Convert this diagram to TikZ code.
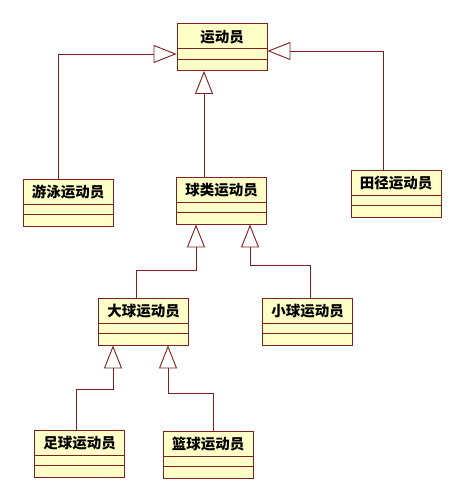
\documentclass[tikz,border=0pt]{standalone}
\usepackage{fontspec}
\newfontfamily\cjk{Noto Sans CJK SC}
\usetikzlibrary{arrows.meta}
\definecolor{umlline}{RGB}{128,32,32}
\definecolor{umlfill}{RGB}{255,255,200}
\tikzset{
  cls/.style={draw=umlline, fill=umlfill, line width=0.9pt, minimum width=90pt, minimum height=47pt,
              text height=18.8pt, text depth=28.2pt, inner sep=0pt, font=\cjk\bfseries\fontsize{14.5}{16}\selectfont,
              path picture={\draw[umlline, line width=0.9pt]
                ([yshift=-25pt]path picture bounding box.north west) -- ([yshift=-25pt]path picture bounding box.north east)
                ([yshift=-35.5pt]path picture bounding box.north west) -- ([yshift=-35.5pt]path picture bounding box.north east);}},
  inh/.style={-{Triangle[length=23pt, width=18pt, fill=white]}, draw=umlline, line width=0.9pt}
}
\begin{document}
\begin{tikzpicture}[x=1pt, y=1pt]
\useasboundingbox[fill=white] (0,0) rectangle (464,502);
\node[cls] (athlete) at (222,455) {运动员};
\node[cls] (swim) at (68,299.5) {游泳运动员};
\node[cls] (ball) at (221.5,301.5) {球类运动员};
\node[cls] (track) at (396,308.5) {田径运动员};
\node[cls] (big) at (143.5,180.5) {大球运动员};
\node[cls] (small) at (307.5,180.5) {小球运动员};
\node[cls] (foot) at (79.5,48.5) {足球运动员};
\node[cls] (basket) at (208,47.5) {篮球运动员};
% inheritance
\draw[inh] ([xshift=-10pt]swim.north) |- ([yshift=-7pt]athlete.west);
\draw[inh] ([xshift=-13pt]track.north) |- ([yshift=-4pt]athlete.east);
\draw[inh] ([xshift=-17.5pt]ball.north) -- ([xshift=-18pt]athlete.south);
\draw[inh] ([xshift=-7.5pt]big.north) -- ++(0,27) -| ([xshift=-25.5pt]ball.south);
\draw[inh] ([xshift=2.5pt]small.north) -- ++(0,32) -| ([xshift=28.5pt]ball.south);
\draw[inh] ([xshift=-3.5pt]foot.north) -- ++(0,40) -| ([xshift=-30.5pt]big.south);
\draw[inh] ([xshift=5pt]basket.north) -- ++(0,37) -| ([xshift=24.5pt]big.south);
\end{tikzpicture}
\end{document}
